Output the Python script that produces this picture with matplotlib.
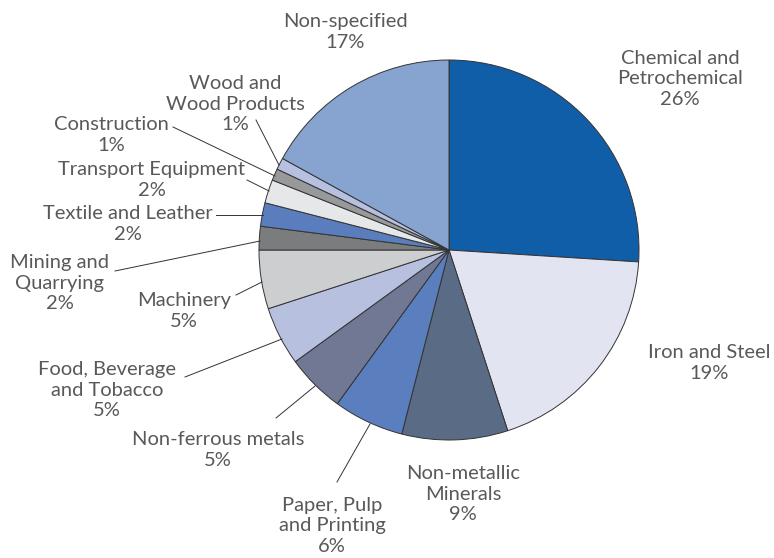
import matplotlib.pyplot as plt

plt.rcParams['font.family'] = ['Lato', 'DejaVu Sans']

# data
sectors = ["Chemical and\nPetrochemical", "Iron and Steel", "Non-metallic\nMinerals",
           "Paper, Pulp\nand Printing", "Non-ferrous metals", "Food, Beverage\nand Tobacco",
           "Machinery", "Mining and\nQuarrying", "Textile and Leather", "Transport Equipment",
           "Construction", "Wood and\nWood Products", "Non-specified"]
shares = [26, 19, 9, 6, 5, 5, 5, 2, 2, 2, 1, 1, 17]
colors = ["#115ea8", "#e2e4f1", "#5a6b85", "#5b7fbe", "#707893", "#b8c0df", "#cdced0",
          "#7b7c7e", "#5a7dbd", "#e6e7e9", "#98999b", "#b8c0df", "#86a4cf"]

# label layout in pixel coords (x, y of text centre), leader line (x0,y0,x1,y1) or None
label_pos = [(680, 79), (709, 363), (463, 494), (332, 526), (218, 450), (107, 390),
             (184, 311), (60, 283), (128, 224), (152, 180), (111, 135), (235, 104), (345, 32)]
leaders = [None, None, None, (337, 482, 370, 424), (276, 418, 315, 386),
           (185, 377, 282, 339), (236, 295, 262, 282), (115, 271, 260, 241),
           (216, 215, 263, 215), (247, 180, 269, 191), (173, 127, 275, 176),
           (256, 120, 279, 165), None]

W, H = 774, 558
fig = plt.figure(figsize=(W / 100, H / 100), dpi=100)
ax = fig.add_axes([0, 0, 1, 1])

ax.pie(shares, colors=colors, startangle=90, counterclock=False,
       center=(449, H - 250), radius=190, frame=True,
       wedgeprops=dict(edgecolor='#333333', linewidth=0.7))
ax.set_xlim(0, W)
ax.set_ylim(0, H)
ax.set_aspect('equal')
ax.axis('off')

for name, val, (x, y), ld in zip(sectors, shares, label_pos, leaders):
    ax.text(x, H - y, f"{name}\n{val}%", ha='center', va='center', fontsize=14.5,
            color='#595959', linespacing=1.22)
    if ld:
        ax.plot([ld[0], ld[2]], [H - ld[1], H - ld[3]], color='#333333', lw=0.7)

fig.savefig("out.png", dpi=100)
